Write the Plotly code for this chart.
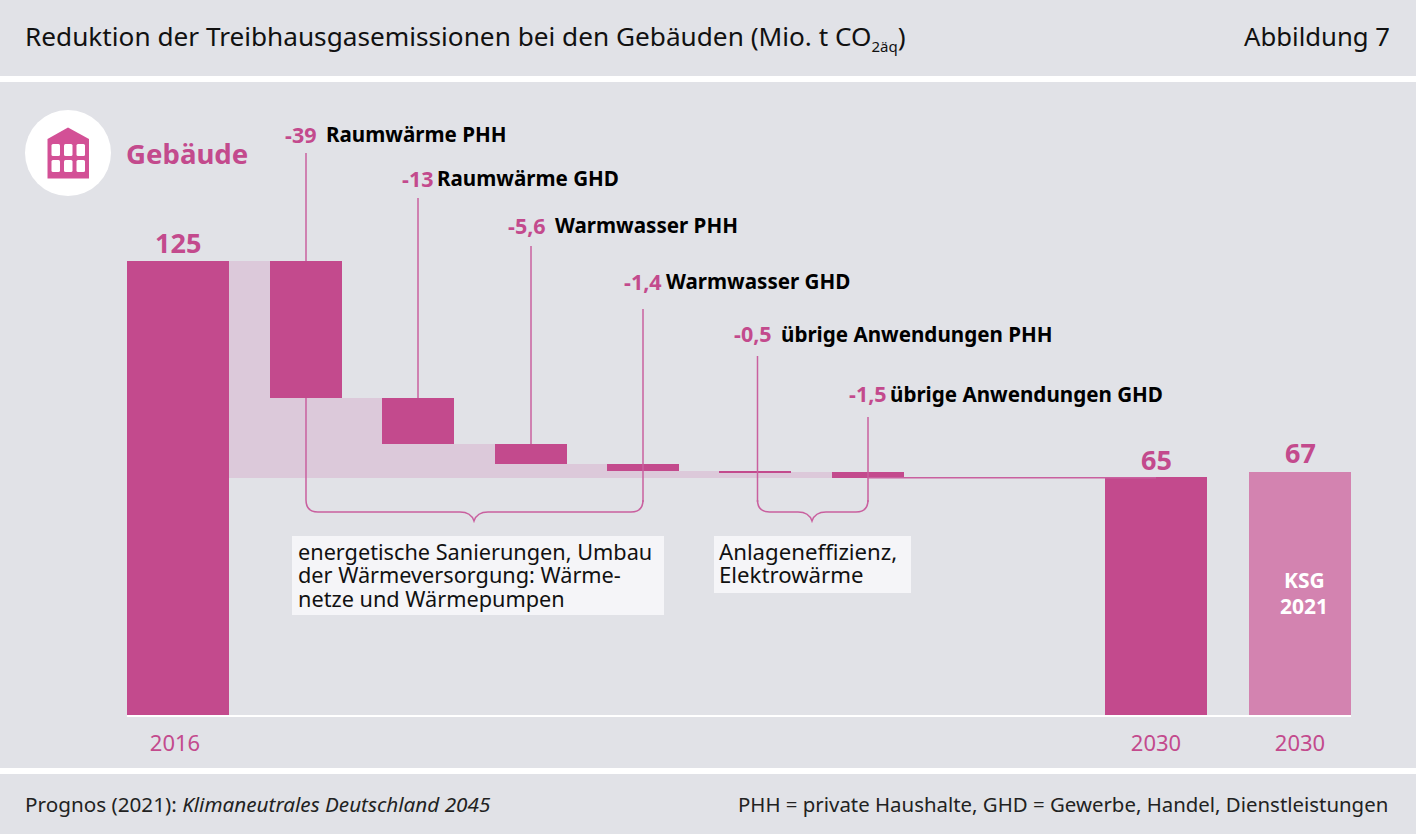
import plotly.graph_objects as go

W, H = 1416, 834
BG = "#E1E2E7"; PINK = "#C34A8D"; LIGHT = "#D383B0"; BAND = "#DCC9DA"; LINE = "#C9609F"; BOX = "#F5F5F8"
FONT = "Noto Sans"

# data
start_label = "2016"; start_value = 125
step_values = [37.7, 12.7, 5.5, 1.9, 0.4, 1.5]
step_labels = ["-39", "-13", "-5,6", "-1,4", "-0,5", "-1,5"]
step_names = ["Raumwärme PHH", "Raumwärme GHD", "Warmwasser PHH", "Warmwasser GHD",
              "übrige Anwendungen PHH", "übrige Anwendungen GHD"]
end_categories = ["2030", "2030"]
end_values = [65.4, 66.9]
end_display = ["65", "67"]
note_left = ["energetische Sanierungen, Umbau", "der Wärmeversorgung: Wärme-", "netze und Wärmepumpen"]
note_right = ["Anlageneffizienz,", "Elektrowärme"]

# layout (pixel positions on the linear x axis)
step_x = [306, 418, 531, 643, 755, 868]
step_w = 72
col_x = [178, 1156, 1300]
tick_x = [175, 1156, 1300]
col_w = 102
Y0 = 715
SCALE = 454 / 125
def py(v):
    return Y0 - SCALE * v
def vy(p):
    return (Y0 - p) / SCALE
def P(x, y):
    return f"{x/W:.5f},{1-y/H:.5f}"

tops = []
t = start_value
for s in step_values:
    tops.append(t); t -= s
bottoms = [a - b for a, b in zip(tops, step_values)]
floor = bottoms[-1]

fig = go.Figure()
# light band
band_left = [229] + [x - step_w/2 for x in step_x[:-1]]
band_right = [x - step_w/2 for x in step_x]
band_top = [start_value] + bottoms[:-1]
fig.add_bar(x=[(a+b)/2 for a, b in zip(band_left, band_right)],
            width=[b-a for a, b in zip(band_left, band_right)],
            y=[t-floor for t in band_top], base=[floor]*6,
            marker=dict(color=BAND, line_width=0), hoverinfo="skip", showlegend=False)
# columns
fig.add_bar(x=col_x, y=[start_value] + end_values, width=col_w,
            marker=dict(color=[PINK, PINK, LIGHT], line_width=0), showlegend=False)
# steps
fig.add_bar(x=step_x, y=step_values, base=bottoms, width=step_w,
            marker=dict(color=PINK, line_width=0), showlegend=False)
# connector to 2030
fig.add_scatter(x=[step_x[-1], col_x[1]], y=[floor, floor], mode="lines",
                line=dict(color=LINE, width=1.5), hoverinfo="skip", showlegend=False)
# leaders
lead_top = [153, 198, 246, 309, 356, 417]
lead_bottom_val = [tops[0], tops[1], tops[2], None, None, None]
for i, x in enumerate(step_x):
    xx = x + (2.5 if i == 4 else 0)
    yb = lead_bottom_val[i] if lead_bottom_val[i] is not None else vy(502)
    fig.add_scatter(x=[xx, xx], y=[vy(lead_top[i]), yb], mode="lines",
                    line=dict(color=LINE, width=1.5), hoverinfo="skip", showlegend=False)

shapes = [
    dict(type="rect", xref="paper", yref="paper", x0=0, x1=1, y0=1-82/H, y1=1-76/H, fillcolor="white", line_width=0, layer="below"),
    dict(type="rect", xref="paper", yref="paper", x0=0, x1=1, y0=1-774/H, y1=1-768/H, fillcolor="white", line_width=0, layer="below"),
    dict(type="circle", xref="paper", yref="paper", x0=25/W, x1=111/W, y0=1-196/H, y1=1-110/H, fillcolor="white", line_width=0, layer="below"),
    dict(type="rect", xref="paper", yref="paper", x0=292/W, x1=664/W, y0=1-615/H, y1=1-536/H, fillcolor=BOX, line_width=0, layer="below"),
    dict(type="rect", xref="paper", yref="paper", x0=714/W, x1=911/W, y0=1-593/H, y1=1-536/H, fillcolor=BOX, line_width=0, layer="below"),
]
# building icon
icon = "M " + P(47.5,139) + " L " + P(68,127.5) + " L " + P(89,139) + " L " + P(89,178.5) + " L " + P(47.5,178.5) + " Z"
shapes.append(dict(type="path", xref="paper", yref="paper", path=icon, fillcolor="#D35096", line_width=0, layer="below"))
for wx in [51.5, 64, 76.5]:
    for wy in [144, 160]:
        x0, x1, y0, y1 = wx, wx+8.5, wy, wy+12
        r = 1.5
        p = ("M " + P(x0+r,y0) + " L " + P(x1-r,y0) + " Q " + P(x1,y0) + " " + P(x1,y0+r) +
             " L " + P(x1,y1-r) + " Q " + P(x1,y1) + " " + P(x1-r,y1) + " L " + P(x0+r,y1) +
             " Q " + P(x0,y1) + " " + P(x0,y1-r) + " L " + P(x0,y0+r) + " Q " + P(x0,y0) + " " + P(x0+r,y0) + " Z")
        shapes.append(dict(type="path", xref="paper", yref="paper", path=p, fillcolor="white", line_width=0, layer="below"))

def brace(x0, x1, xm, top0, top1, y=512, tip=521):
    r = 12
    return ("M " + P(x0,top0) + " L " + P(x0,y-r) + " Q " + P(x0,y) + " " + P(x0+r,y) +
            " L " + P(xm-14,y) + " Q " + P(xm-3,y) + " " + P(xm,tip) +
            " Q " + P(xm+3,y) + " " + P(xm+14,y) + " L " + P(x1-r,y) + " Q " + P(x1,y) + " " + P(x1,y-r) +
            " L " + P(x1,top1))
for a, b, m, t0 in [(306, 643, 474, py(bottoms[0])), (757.5, 868, 812, 500)]:
    shapes.append(dict(type="path", xref="paper", yref="paper", path=brace(a, b, m, t0, 500),
                       line=dict(color=LINE, width=1.5), layer="above"))

ann = []
def text(x, y, s, size, color="black", anchor="left", bold=False):
    if bold:
        s = f"<b>{s}</b>"
    ann.append(dict(xref="paper", yref="paper", x=x/W, y=1-y/H, text=s, showarrow=False,
                    xanchor=anchor, yanchor="middle", align=anchor, borderpad=0, borderwidth=0,
                    font=dict(family=FONT, size=size, color=color)))
def block(lines, px):
    return "<br>".join(f"<span style='font-size:{px}px'>{l}</span>" for l in lines)

text(25, 37, "Reduktion der Treibhausgasemissionen bei den Gebäuden (Mio. t CO<sub><span style='font-size:15px'>2äq</span></sub>)", 26.2, "#111")
text(1390, 37, "Abbildung 7", 25.7, "#111", "right")
text(126, 153, "Gebäude", 27.6, PINK, bold=True)
text(25, 804, "Prognos (2021): <i>Klimaneutrales Deutschland 2045</i>", 20.7, "#222")
text(1388, 804, "PHH = private Haushalte, GHD = Gewerbe, Handel, Dienstleistungen", 20.4, "#222", "right")

lab_pos = [(285,134),(402,178),(508,225),(624,281),(734,334),(849,394)]
name_x = [326, 437, 555, 666, 781, 890]
for (x, y), nx, v, n in zip(lab_pos, name_x, step_labels, step_names):
    text(x, y, v, 21.5, PINK, bold=True)
    text(nx, y, n, 20.6, "black", bold=True)

text(178, 243, str(start_value), 27, PINK, "center", bold=True)
text(1156, 459, end_display[0], 27, PINK, "center", bold=True)
text(1300, 453, end_display[1], 27, PINK, "center", bold=True)
text(1304, 580, "KSG", 21, "white", "center", bold=True)
text(1304, 606, "2021", 21, "white", "center", bold=True)
text(298, 574.5, block(note_left, 21.7), 18, "#111")
text(719, 563, block(note_right, 22.2), 18, "#111")

fig.update_layout(
    width=W, height=H, autosize=False, margin=dict(l=0, r=0, t=0, b=0),
    paper_bgcolor=BG, plot_bgcolor="rgba(0,0,0,0)", barmode="overlay", bargap=0,
    font=dict(family=FONT), shapes=shapes, annotations=ann,
    xaxis=dict(domain=[127/W, 1351/W], range=[127, 1351], showgrid=False, zeroline=False,
               showline=True, linecolor="white", linewidth=2,
               tickmode="array", tickvals=tick_x, ticktext=[start_label] + end_categories,
               ticks="", tickfont=dict(family=FONT, size=22, color=PINK), ticklabelstandoff=8),
    yaxis=dict(domain=[(H-Y0)/H, 1], range=[0, Y0/SCALE], visible=False),
)
fig.write_html("out.html", config={"displayModeBar": False},
               post_script="document.body.style.margin='0';document.documentElement.style.background='%s';" % BG)
